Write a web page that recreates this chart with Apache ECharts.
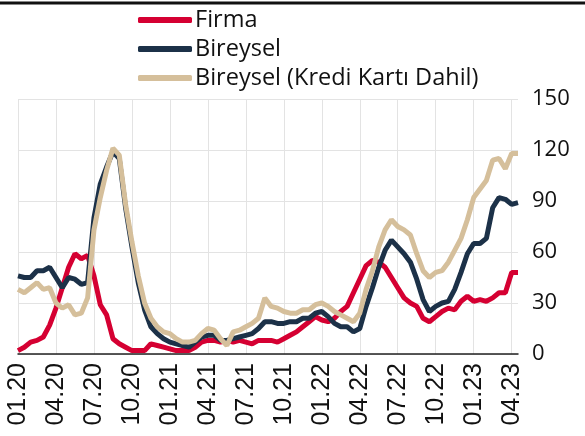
<html>
<script src="https://cdn.jsdelivr.net/npm/echarts@6/dist/echarts.min.js"></script>
<body style="margin:0">
    <div id="main" style="width:585px;height:436px;"></div>
</body>
</html>
<script>
    // half-month steps, Jan 2020 .. Apr 2023
    var categories = [];
    for (var y = 20; y <= 23; y++) {
        for (var m = 1; m <= 12; m++) {
            if (y === 23 && m > 4) break;
            var mm = (m < 10 ? '0' : '') + m;
            categories.push(mm + '.' + y);
            categories.push(mm + '.' + y + 'b');
        }
    }

    var firma = [
        2, 4, 7, 8, 10, 17, 27, 39, 51, 59, 56, 58, 46, 29,
        23, 9, 6, 4, 2, 2, 2, 6, 5, 4, 3, 2, 2,
        2, 4, 7, 8, 8, 7, 8, 7, 8, 7, 6, 8, 8,
        8, 7, 9, 11, 13, 16, 19, 22, 20, 19, 21, 25, 28, 36,
        44, 52, 55, 54, 51, 45, 39, 33, 30, 28, 21, 19, 22,
        25, 27, 26, 31, 34, 31, 32, 31, 33, 36, 36, 48, 48
    ];
    var bireysel = [
        46, 45, 45, 49, 49, 51, 45, 39, 45, 44, 41, 42, 80, 100,
        110, 119, 115, 86, 63, 42, 26, 16, 12, 9, 7, 6, 5,
        4, 7, 10, 11, 11, 8, 8, 9, 10, 11, 12, 15, 19,
        19, 18, 18, 19, 19, 21, 21, 24, 25, 22, 18, 16, 16, 13,
        15, 28, 39, 51, 61, 67, 63, 59, 54, 44, 32, 25, 28,
        30, 31, 38, 48, 59, 65, 65, 68, 86, 92, 91, 88, 89
    ];
    var bireyselKK = [
        38, 36, 39, 42, 38, 39, 30, 27, 29, 23, 24, 33, 73, 92,
        108, 121, 117, 88, 66, 46, 30, 21, 16, 13, 12, 9, 7,
        7, 8, 12, 15, 14, 9, 5, 13, 14, 16, 18, 21, 33,
        28, 27, 25, 24, 24, 26, 26, 29, 30, 28, 25, 23, 21, 19,
        24, 38, 49, 63, 73, 79, 75, 73, 70, 59, 49, 45, 48,
        49, 54, 61, 68, 79, 92, 97, 102, 114, 115, 109, 118, 118
    ];

    var chartDom = document.getElementById('main');
    var myChart = echarts.init(chartDom);
    var option;

    function quarterTick(index) {
        return index % 6 === 0;
    }

    option = {
        animation: false,
        textStyle: { fontFamily: 'Open Sans' },
        graphic: [
            {
                type: 'line',
                shape: { x1: 0, y1: 3, x2: 585, y2: 3 },
                style: { stroke: '#111', lineWidth: 3 }
            }
        ],
        legend: {
            orient: 'vertical',
            left: 133,
            top: 3,
            itemWidth: 54,
            itemHeight: 6,
            itemGap: 5,
            icon: 'roundRect',
            textStyle: { fontSize: 23.5, color: '#111', padding: [0, 0, 0, -2] },
            data: ['Firma', 'Bireysel', 'Bireysel (Kredi Kartı Dahil)']
        },
        grid: {
            left: 18,
            right: 67,
            top: 99,
            bottom: 82
        },
        xAxis: {
            type: 'category',
            data: categories,
            boundaryGap: false,
            axisLine: { lineStyle: { color: '#222', width: 1.5 } },
            axisTick: { show: false },
            axisLabel: {
                interval: quarterTick,
                rotate: 90,
                margin: 9,
                fontSize: 25,
                fontFamily: 'Liberation Sans',
                color: '#111',
                formatter: function (v) { return v.replace('b', ''); }
            },
            splitLine: {
                show: true,
                interval: quarterTick,
                lineStyle: { color: '#e3e3e3', width: 1 }
            }
        },
        yAxis: {
            type: 'value',
            position: 'right',
            min: 0,
            max: 150,
            interval: 30,
            axisLine: { show: false },
            axisTick: { show: false },
            axisLabel: { fontSize: 22, color: '#111', margin: 14 },
            splitLine: { lineStyle: { color: '#e3e3e3', width: 1 } }
        },
        series: [
            {
                name: 'Firma',
                type: 'line',
                data: firma,
                color: '#d50032',
                showSymbol: false,
                lineStyle: { width: 5 }
            },
            {
                name: 'Bireysel',
                type: 'line',
                data: bireysel,
                color: '#1c3148',
                showSymbol: false,
                lineStyle: { width: 5 }
            },
            {
                name: 'Bireysel (Kredi Kartı Dahil)',
                type: 'line',
                data: bireyselKK,
                color: '#d5bf9b',
                showSymbol: false,
                lineStyle: { width: 5 }
            }
        ]
    };

    option && myChart.setOption(option);
</script>
